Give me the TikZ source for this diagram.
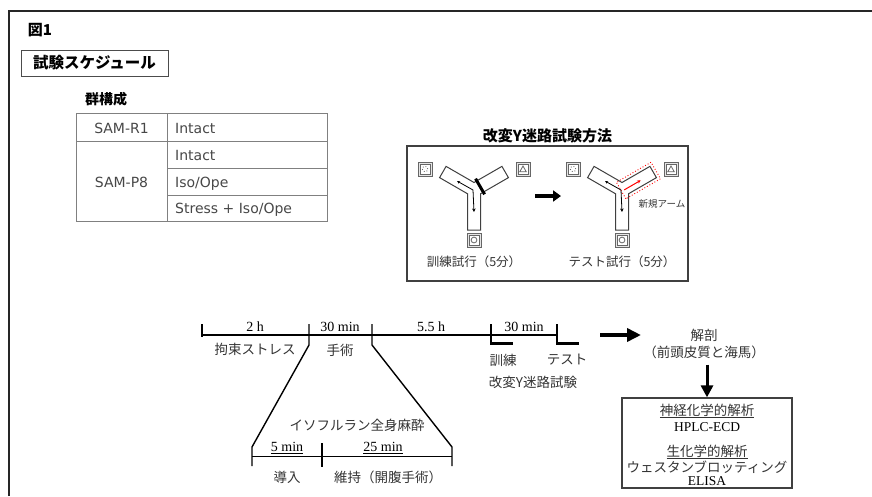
\documentclass[tikz,border=0pt]{standalone}
\usepackage{fontspec}
\setmainfont{Liberation Serif}
\newfontfamily\jp{Noto Sans CJK JP}
\newfontfamily\tabfont{DejaVu Sans}
\usetikzlibrary{arrows.meta}
\begin{document}
\begin{tikzpicture}[x=1pt,y=-1pt,
  jpl/.style={font=\jp\fontsize{13.5}{15}\selectfont, text=black!80, inner sep=0pt},
  jps/.style={font=\jp\fontsize{12.5}{14}\selectfont, text=black!80, inner sep=0pt},
  jpb/.style={font=\jp\bfseries\fontsize{15}{17}\selectfont, inner sep=0pt},
  ser/.style={font=\fontsize{14}{16}\selectfont, inner sep=0pt, anchor=base},
  tabtxt/.style={font=\tabfont\fontsize{14}{16}\selectfont, text=black!72, inner sep=0pt},
  tabline/.style={draw=black!50, line width=0.9pt},
  mazeline/.style={draw=black!75, line width=1pt, fill=white},
  icon/.style={draw=black!60, line width=0.8pt},
  tl/.style={line width=1.4pt, black},
  bigarrow/.style={line width=3.5pt, -{Triangle[length=14pt,width=13pt]}},
]
\useasboundingbox (0,0) rectangle (872,496);
% outer frame
\draw[line width=2.2pt, black!85] (9,496) -- (9,11) -- (872,11);
% heading
\node[inner sep=0pt, font=\jp\bfseries\fontsize{15}{17}\selectfont] (fig) at (40,30) {図\textbf{1}};
\node[draw=black!70, line width=0.9pt, minimum width=147, minimum height=26, inner sep=0pt,
      font=\jp\bfseries\fontsize{15.5}{17}\selectfont] (sched) at (94.5,63) {試験スケジュール};
% group table
\node[jpb, font=\jp\bfseries\fontsize{14}{16}\selectfont] (grp) at (106,99) {群構成};
\draw[tabline] (76,113) rectangle (327,221);
\draw[tabline] (76,141) -- (327,141);
\draw[tabline] (167,113) -- (167,221);
\draw[tabline] (167,168) -- (327,168);
\draw[tabline] (167,195) -- (327,195);
\node[tabtxt, anchor=base] (r1) at (121.5,133) {SAM-R1};
\node[tabtxt, anchor=base] (p8) at (121.5,187) {SAM-P8};
\node[tabtxt, anchor=base west] (c1) at (175,133) {Intact};
\node[tabtxt, anchor=base west] (c2) at (175,160) {Intact};
\node[tabtxt, anchor=base west] (c3) at (175,187) {Iso/Ope};
\node[tabtxt, anchor=base west] (c4) at (175,213.5) {Stress + Iso/Ope};
% Y-maze method
\node[jpb] (ytitle) at (547.5,135.5) {改変Y迷路試験方法};
\node[draw=black!75, line width=1.2pt, minimum width=281, minimum height=135, inner sep=0pt] (ybox) at (547.5,213.5) {};
% left maze
\begin{scope}[shift={(474,190)}, yscale=-1]
  \draw[mazeline] (-6.5,-40) -- (6.5,-40) -- (6.5,-3.75) -- (34.43,12.37) -- (27.93,23.63) -- (0,7.51)
     -- (-27.93,23.63) -- (-34.43,12.37) -- (-6.5,-3.75) -- cycle;
  \draw[line width=3pt, black] (1.56,11.3) -- (10.56,-4.3);
  \draw[line width=0.8pt, {Stealth[length=3pt,width=3pt]}-{Stealth[length=3.5pt,width=3.5pt]}] (-17,9) -- (-1,0) -- (0,-22);
  % icons
  \draw[icon, fill=black!10] (-56,14) rectangle (-42,28);
  \draw[icon, fill=white] (-54,16) rectangle (-44,26);
  \draw[icon, dotted, line width=0.9pt] (-49,21) circle (2.7);
  \draw[icon, fill=black!10] (42,14) rectangle (56,28);
  \draw[icon, fill=white] (44,16) rectangle (54,26);
  \draw[icon] (45.8,18.3) -- (52.2,18.3) -- (49,24) -- cycle;
  \draw[icon, fill=black!10] (-7,-57) rectangle (7,-43);
  \draw[icon, fill=white] (-5,-55) rectangle (5,-45);
  \draw[icon] (0,-50) circle (2.9);
\end{scope}
\node[jps] (train) at (474,262) {訓練試行（5分）};
\coordinate (ma1) at (535,196);
\coordinate (ma2) at (561,196);
\draw[line width=4pt, -{Triangle[length=8pt,width=11pt]}] (ma1) -- (ma2);
% right maze
\begin{scope}[shift={(622,190)}, yscale=-1]
  \draw[mazeline] (-6.5,-40) -- (6.5,-40) -- (6.5,-3.75) -- (34.43,12.37) -- (27.93,23.63) -- (0,7.51)
     -- (-27.93,23.63) -- (-34.43,12.37) -- (-6.5,-3.75) -- cycle;
  \begin{scope}[rotate=-30]
    \draw[red, dotted, line width=0.9pt] (-1,-9.5) rectangle (39,9.5);
    \draw[red, line width=1pt, -{Stealth[length=3.5pt,width=3.5pt]}] (2,-1) -- (21,-1);
  \end{scope}
  \draw[line width=0.8pt, {Stealth[length=3pt,width=3pt]}-{Stealth[length=3.5pt,width=3.5pt]}] (-17,9) -- (-1,0) -- (0,-22);
  \draw[icon, fill=black!10] (-56,14) rectangle (-42,28);
  \draw[icon, fill=white] (-54,16) rectangle (-44,26);
  \draw[icon, dotted, line width=0.9pt] (-49,21) circle (2.7);
  \draw[icon, fill=black!10] (42,14) rectangle (56,28);
  \draw[icon, fill=white] (44,16) rectangle (54,26);
  \draw[icon] (45.8,18.3) -- (52.2,18.3) -- (49,24) -- cycle;
  \draw[icon, fill=black!10] (-7,-57) rectangle (7,-43);
  \draw[icon, fill=white] (-5,-55) rectangle (5,-45);
  \draw[icon] (0,-50) circle (2.9);
\end{scope}
\node[jps, font=\jp\fontsize{9.5}{11}\selectfont] (newarm) at (662,203.5) {新規アーム};
\node[jps] (test) at (622,262) {テスト試行（5分）};
% timeline
\coordinate (t0) at (202,335);
\coordinate (t1) at (309,335);
\coordinate (t2) at (372,335);
\coordinate (t3) at (491,335);
\coordinate (t4) at (557,335);
\draw[tl] (t0) -- (t4);
\draw[tl] (202,324) -- (202,337);
\draw[tl] (309,324) -- (309,345) -- (252,447) -- (252,466);
\draw[tl] (372,324) -- (372,345) -- (452,447) -- (452,466);
\draw[tl] (491,324) -- (491,343);
\draw[line width=3pt] (490.3,343) -- (513,343);
\draw[tl] (557,324) -- (557,343);
\draw[line width=3pt] (556.3,343) -- (579,343);
\node[ser] (l2h) at (255,331.5) {2 h};
\node[ser] (l30a) at (340,331.5) {30 min};
\node[ser] (l55) at (431,331.5) {5.5 h};
\node[ser] (l30b) at (524,331.5) {30 min};
\node[jpl] (stress) at (255,349) {拘束ストレス};
\node[jpl] (ope) at (340,350) {手術};
\node[jpl] (kun) at (503,360) {訓練};
\node[jpl] (tst) at (567,360) {テスト};
\node[jpl] (ymz) at (533,382) {改変Y迷路試験};
% arrow to dissection
\coordinate (da1) at (600,335);
\coordinate (da2) at (641,335);
\draw[bigarrow] (da1) -- (da2);
\node[jpl] (kaibou) at (704,335) {解剖};
\node[jpl] (region) at (704,352) {（前頭皮質と海馬）};
% results box
\node[draw=black!75, line width=1.3pt, minimum width=170, minimum height=90, inner sep=0pt] (res) at (707,443) {};
\draw[line width=3pt, -{Triangle[length=12pt,width=12pt]}] (region.south -| res.north) ++(0,6) -- (res.north);
\node[jpl] (neuro) at (707,411) {\underline{神経化学的解析}};
\node[ser, font=\fontsize{13.5}{16}\selectfont] (hplc) at (707,431.5) {HPLC-ECD};
\node[jpl] (bio) at (707,452) {\underline{生化学的解析}};
\node[jpl] (wb) at (707,467) {ウェスタンブロッティング};
\node[ser, font=\fontsize{13.5}{16}\selectfont] (elisa) at (707,485) {ELISA};
% anesthesia
\draw[tl] (252,456.5) -- (452,456.5);
\draw[tl] (322,443) -- (322,467);
\node[jpl] (iso) at (357,425) {イソフルラン全身麻酔};
\node[ser] (l5) at (287,451.5) {\underline{5 min}};
\node[ser] (l25) at (383,451.5) {\underline{25 min}};
\node[jpl] (ind) at (287,477) {導入};
\node[jpl] (maint) at (388,477) {維持（開腹手術）};
\end{tikzpicture}
\end{document}
